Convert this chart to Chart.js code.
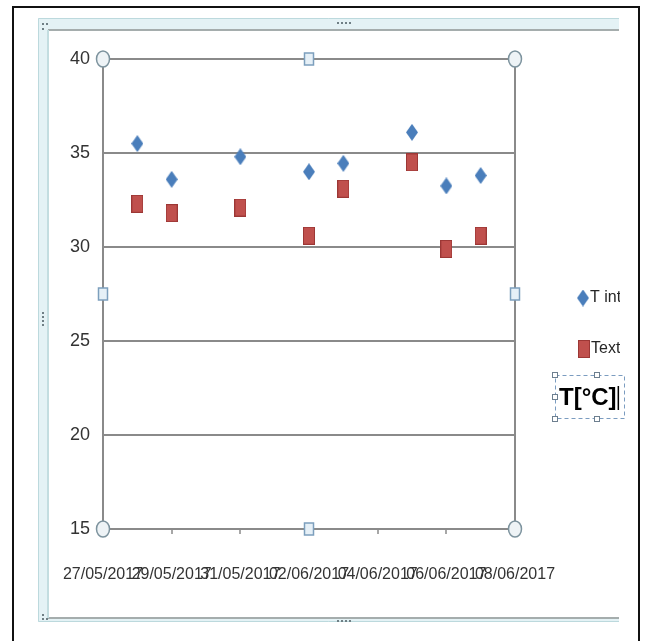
<!DOCTYPE html>
<html>
<head>
<meta charset="utf-8">
<script src="https://cdn.jsdelivr.net/npm/chart.js@4.4.1/dist/chart.umd.min.js"></script>
<style>
  html, body { margin: 0; padding: 0; background: #fff; }
  #wrap { position: relative; width: 648px; height: 641px; }
</style>
</head>
<body>
<div id="wrap"><canvas id="tempChart" width="648" height="641"></canvas></div>
<script>
// Dati
var dates = ['28/05/2017', '29/05/2017', '31/05/2017', '02/06/2017', '03/06/2017', '05/06/2017', '06/06/2017', '07/06/2017'];
var tInt = [35.5, 33.6, 34.8, 34.0, 34.45, 36.1, 33.25, 33.8];
var tExt = [32.3, 31.8, 32.1, 30.6, 33.1, 34.5, 29.9, 30.6];
var xFirst = '27/05/2017';
var xLast = '08/06/2017';
var yTicks = [15, 20, 25, 30, 35, 40];
var seriesNames = ['T int', 'Text'];
var unitLabel = 'T[°C]';

var FONT = "'Liberation Sans', sans-serif";

function dayNum(s) {
  var p = s.split('/').map(Number);
  return Date.UTC(p[2], p[1] - 1, p[0]) / 86400000;
}
function fmtDay(v) {
  var d = new Date(v * 86400000);
  var dd = ('0' + d.getUTCDate()).slice(-2);
  var mm = ('0' + (d.getUTCMonth() + 1)).slice(-2);
  return dd + '/' + mm + '/' + d.getUTCFullYear();
}

// marker (rombo e quadrato leggermente allungati come nell'originale)
function makeMarker(kind, color, w, h) {
  var c = document.createElement('canvas');
  c.width = w; c.height = h;
  var g = c.getContext('2d');
  g.fillStyle = color;
  if (kind === 'diamond') {
    g.beginPath();
    g.moveTo(w / 2, 0); g.lineTo(w, h / 2); g.lineTo(w / 2, h); g.lineTo(0, h / 2);
    g.closePath(); g.fill();
  } else {
    g.fillRect(0, 0, w, h);
    g.strokeStyle = 'rgba(120,30,30,0.5)';
    g.lineWidth = 1;
    g.strokeRect(0.5, 0.5, w - 1, h - 1);
  }
  return c;
}
var diamond = makeMarker('diamond', '#4a7ebb', 12, 17);
var square = makeMarker('square', '#c0504d', 12, 18);

function toPoints(vals) {
  return vals.map(function (v, i) { return { x: dayNum(dates[i]), y: v }; });
}

// cornice, maniglie, legenda e casella di testo (decorazione)
var decoPlugin = {
  id: 'deco',
  beforeDraw: function (chart) {
    var ctx = chart.ctx;
    ctx.save();
    ctx.fillStyle = '#fff';
    ctx.fillRect(0, 0, 648, 641);
    // bordo nero esterno
    ctx.strokeStyle = '#111';
    ctx.lineWidth = 2;
    ctx.beginPath();
    ctx.moveTo(13, 641); ctx.lineTo(13, 7); ctx.lineTo(639, 7); ctx.lineTo(639, 641);
    ctx.stroke();
    // cornice di selezione azzurra
    ctx.fillStyle = '#e4f2f5';
    ctx.fillRect(38, 18, 10, 604);
    ctx.fillRect(38, 18, 581, 12);
    ctx.fillRect(38, 617, 581, 5);
    ctx.strokeStyle = '#bcd9dd';
    ctx.lineWidth = 1;
    ctx.beginPath();
    ctx.moveTo(619, 18.5); ctx.lineTo(38.5, 18.5); ctx.lineTo(38.5, 621.5); ctx.lineTo(619, 621.5);
    ctx.stroke();
    ctx.strokeStyle = '#a5adad';
    ctx.lineWidth = 2;
    ctx.beginPath();
    ctx.moveTo(48, 30); ctx.lineTo(619, 30);
    ctx.moveTo(48, 618); ctx.lineTo(619, 618);
    ctx.stroke();
    ctx.strokeStyle = '#c3dde0';
    ctx.beginPath();
    ctx.moveTo(48, 30); ctx.lineTo(48, 618);
    ctx.stroke();
    // puntini delle maniglie della cornice
    ctx.fillStyle = '#6f7f85';
    [[42, 23], [46, 23], [42, 28]].forEach(function (p) { ctx.fillRect(p[0], p[1], 2, 2); });
    [337, 341, 345, 349].forEach(function (x) { ctx.fillRect(x, 22, 2, 2); });
    [312, 316, 320, 324].forEach(function (y) { ctx.fillRect(42, y, 2, 2); });
    [337, 341, 345, 349].forEach(function (x) { ctx.fillRect(x, 620, 2, 2); });
    [[42, 614], [42, 618], [46, 618]].forEach(function (p) { ctx.fillRect(p[0], p[1], 2, 2); });
    ctx.restore();
  },
  afterDraw: function (chart) {
    var ctx = chart.ctx;
    var a = chart.chartArea;
    ctx.save();
    // maniglie dell'area del tracciato
    var midX = (a.left + a.right) / 2, midY = (a.top + a.bottom) / 2;
    [[a.left, a.top], [a.right, a.top], [a.left, a.bottom], [a.right, a.bottom]].forEach(function (p) {
      ctx.beginPath();
      ctx.ellipse(p[0], p[1], 6.5, 8, 0, 0, Math.PI * 2);
      ctx.fillStyle = '#eef3f6';
      ctx.fill();
      ctx.strokeStyle = '#7d939e';
      ctx.lineWidth = 1.5;
      ctx.stroke();
    });
    [[midX, a.top], [midX, a.bottom], [a.left, midY], [a.right, midY]].forEach(function (p) {
      ctx.fillStyle = '#e6f0f7';
      ctx.fillRect(p[0] - 4.5, p[1] - 6, 9, 12);
      ctx.strokeStyle = '#7c9fbd';
      ctx.lineWidth = 1.5;
      ctx.strokeRect(p[0] - 4.5, p[1] - 6, 9, 12);
    });

    // legenda (tagliata al bordo destro della cornice)
    ctx.save();
    ctx.beginPath();
    ctx.rect(520, 250, 100, 130);
    ctx.clip();
    var legendPos = [[583, 298], [584, 349]];
    chart.data.datasets.forEach(function (ds, i) {
      var img = ds.pointStyle;
      var p = legendPos[i];
      ctx.drawImage(img, p[0] - img.width / 2, p[1] - img.height / 2);
      ctx.fillStyle = '#262626';
      ctx.font = '16px ' + FONT;
      ctx.textBaseline = 'middle';
      ctx.textAlign = 'left';
      ctx.fillText(ds.label, p[0] + 7, p[1]);
    });
    ctx.restore();

    // casella di testo con l'unità
    ctx.strokeStyle = '#7b9cc0';
    ctx.lineWidth = 1;
    ctx.setLineDash([4, 3]);
    ctx.strokeRect(555.5, 375.5, 69, 43);
    ctx.setLineDash([]);
    [[555, 375], [597, 375], [555, 397], [555, 419], [597, 419]].forEach(function (p) {
      ctx.fillStyle = '#fff';
      ctx.fillRect(p[0] - 2.5, p[1] - 2.5, 5, 5);
      ctx.strokeStyle = '#6d7f8f';
      ctx.strokeRect(p[0] - 2.5, p[1] - 2.5, 5, 5);
    });
    ctx.fillStyle = '#000';
    ctx.font = "bold 24px 'Liberation Sans', sans-serif";
    ctx.textBaseline = 'middle';
    ctx.textAlign = 'left';
    ctx.fillText(unitLabel, 559, 398);
    var tw = ctx.measureText(unitLabel).width;
    ctx.fillRect(559 + tw + 1, 386, 1.5, 24);
    ctx.restore();
  }
};

new Chart(document.getElementById('tempChart'), {
  type: 'scatter',
  data: {
    datasets: [
      {
        label: seriesNames[0],
        data: toPoints(tInt),
        pointStyle: diamond,
        backgroundColor: '#4a7ebb',
        borderColor: '#4a7ebb'
      },
      {
        label: seriesNames[1],
        data: toPoints(tExt),
        pointStyle: square,
        backgroundColor: '#c0504d',
        borderColor: '#c0504d'
      }
    ]
  },
  options: {
    responsive: false,
    animation: false,
    devicePixelRatio: 1,
    layout: { padding: { left: 0, top: 59, right: 133, bottom: 52 } },
    plugins: {
      legend: { display: false },
      tooltip: { enabled: false }
    },
    scales: {
      x: {
        type: 'linear',
        min: dayNum(xFirst),
        max: dayNum(xLast),
        afterBuildTicks: function (axis) {
          var t = [];
          for (var v = dayNum(xFirst); v <= dayNum(xLast); v += 2) t.push({ value: v });
          axis.ticks = t;
        },
        afterFit: function (axis) { axis.height = 60; },
        border: { display: true, color: '#8a8a8a', width: 2 },
        grid: {
          drawOnChartArea: true,
          color: function (c) {
            return c.tick && c.tick.value === dayNum(xLast) ? '#8a8a8a' : 'rgba(0,0,0,0)';
          },
          lineWidth: 2,
          tickColor: '#8a8a8a',
          tickLength: 5,
          tickWidth: 1.5
        },
        ticks: {
          autoSkip: false,
          maxRotation: 0,
          minRotation: 0,
          padding: 31,
          color: '#333',
          font: { family: FONT, size: 16 },
          callback: function (v) { return fmtDay(v); }
        }
      },
      y: {
        min: yTicks[0],
        max: yTicks[yTicks.length - 1],
        afterBuildTicks: function (axis) {
          axis.ticks = yTicks.map(function (v) { return { value: v }; });
        },
        afterFit: function (axis) { axis.width = 103; },
        border: { display: true, color: '#8a8a8a', width: 2 },
        grid: {
          color: '#8a8a8a',
          lineWidth: 2,
          drawTicks: false
        },
        ticks: {
          padding: 13,
          color: '#333',
          font: { family: FONT, size: 18 }
        }
      }
    }
  },
  plugins: [decoPlugin]
});
</script>
</body>
</html>
